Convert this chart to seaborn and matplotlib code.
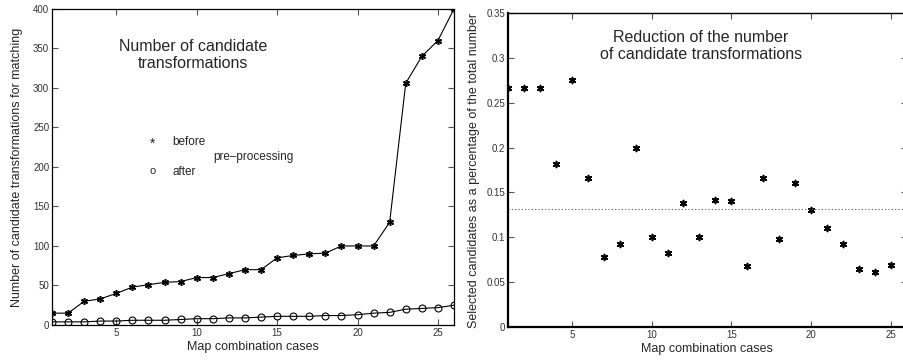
import numpy as np
import pandas as pd
import matplotlib
matplotlib.use("Agg")
import matplotlib.pyplot as plt
import seaborn as sns

# ------------------------------------------
# data
# ------------------------------------------
cases = list(range(1, 27))
before = [15, 15, 30, 33, 40, 48, 51, 54, 55, 60, 60, 65, 70, 70, 85, 88,
          90, 91, 100, 100, 100, 130, 306, 340, 360, 400]
after = [4, 4, 4, 5, 5, 6, 6, 6, 7, 8, 8, 9, 9, 10, 11, 11, 11, 12, 12, 13,
         15, 16, 20, 21, 22, 25]

ratio_cases = list(range(1, 26))
ratio = [0.267, 0.267, 0.267, 0.182, 0.275, 0.166, 0.078, 0.092, 0.200, 0.100,
         0.083, 0.138, 0.100, 0.142, 0.141, 0.068, 0.166, 0.098, 0.160, 0.130,
         0.110, 0.092, 0.065, 0.061, 0.069]
ratio_mean = 0.132

left_yticks = [0, 50, 100, 150, 200, 250, 300, 350, 400]
right_yticks = [0, 0.05, 0.1, 0.15, 0.2, 0.25, 0.3, 0.35]
xticks = [5, 10, 15, 20, 25]

# ------------------------------------------
# style
# ------------------------------------------
sns.set_style("ticks")
plt.rcParams['font.family'] = ['Liberation Sans', 'DejaVu Sans']
plt.rcParams['xtick.direction'] = 'in'
plt.rcParams['ytick.direction'] = 'in'
plt.rcParams['xtick.top'] = True
plt.rcParams['ytick.right'] = True

asterisk = (6, 2, 0)

fig = plt.figure(figsize=(9.04, 3.6), dpi=100)
ax1 = fig.add_axes([0.0575, 0.0972, 0.4447, 0.878])
ax2 = fig.add_axes([0.562, 0.0917, 0.441, 0.872])


def style_axes(ax, lw):
    for s in ax.spines.values():
        s.set_visible(True)
        s.set_color('black')
        s.set_linewidth(lw)
    ax.tick_params(axis='both', which='both', length=4, width=0.8,
                   labelsize=7, labelcolor='#333333', color='#555555', pad=2)
    ax.set_xlabel('Map combination cases', fontsize=9, labelpad=2)


# ------------------------------------------
# left: number of candidates
# ------------------------------------------
df = pd.DataFrame({'case': cases, 'before': before, 'after': after})
sns.lineplot(data=df, x='case', y='before', ax=ax1, color='black', lw=0.8,
             marker=asterisk, ms=5, mew=1.1, mec='black')
sns.lineplot(data=df, x='case', y='after', ax=ax1, color='black', lw=0.8,
             marker='o', ms=5, mew=0.8, mfc='none', mec='black')
ax1.set_xlim(1, 26)
ax1.set_ylim(0, 400)
ax1.set_xticks(xticks)
ax1.set_yticks(left_yticks)
style_axes(ax1, 0.9)
ax1.set_ylabel('Number of candidate transformations for matching', fontsize=9, labelpad=7)

ax1.text(0.351, 0.854, 'Number of candidate\ntransformations', transform=ax1.transAxes,
         ha='center', va='center', fontsize=11.5, linespacing=1.1)
ax1.text(0.251, 0.572, '*', transform=ax1.transAxes, ha='center', va='center', fontsize=10)
ax1.text(0.299, 0.579, 'before', transform=ax1.transAxes, ha='left', va='center', fontsize=8.5)
ax1.text(0.40, 0.532, 'pre\u2013processing', transform=ax1.transAxes, ha='left', va='center', fontsize=8.5)
ax1.text(0.251, 0.486, 'o', transform=ax1.transAxes, ha='center', va='center', fontsize=8)
ax1.text(0.299, 0.484, 'after', transform=ax1.transAxes, ha='left', va='center', fontsize=8.5)

# ------------------------------------------
# right: reduction ratio
# ------------------------------------------
sns.scatterplot(x=ratio_cases, y=ratio, ax=ax2, marker=asterisk, s=18,
                color='black', linewidth=1.2)
ax2.axhline(ratio_mean, color='#555555', lw=0.8, ls=(0, (1, 2)))
ax2.set_xlim(1, 26)
ax2.set_ylim(0, 0.35)
ax2.set_xticks(xticks)
ax2.set_yticks(right_yticks)
ax2.set_yticklabels([f"{v:g}" for v in right_yticks])
style_axes(ax2, 1.6)
ax2.spines['top'].set_linewidth(1.0)
ax2.set_ylabel('Selected candidates as a percentage of the total number', fontsize=9, labelpad=5)
ax2.text(0.484, 0.895, 'Reduction of the number\nof candidate transformations',
         transform=ax2.transAxes, ha='center', va='center', fontsize=11.5, linespacing=1.1)

fig.savefig('out.png', dpi=100)
